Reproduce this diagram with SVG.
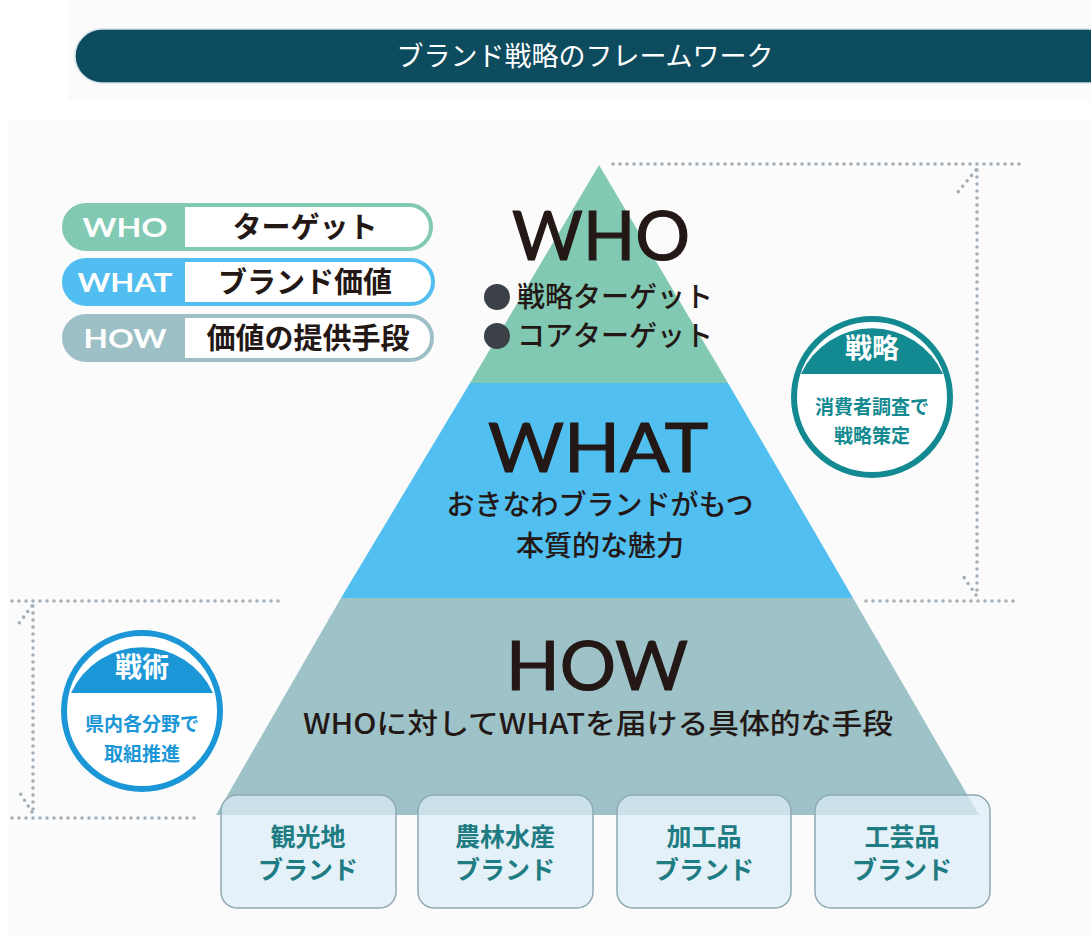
<svg xmlns="http://www.w3.org/2000/svg" width="1091" height="936" viewBox="0 0 1091 936">
<style>
.jp{font-family:"Noto Sans CJK JP","Noto Sans",sans-serif;}
.lat{font-family:"Lato","Liberation Sans",sans-serif;}
.big{font-size:68px;fill:#231815;stroke:#231815;stroke-width:1.2;text-anchor:middle;}
.sub{font-size:28px;font-weight:500;fill:#231815;}
.leg{font-size:26px;font-weight:700;fill:#fff;text-anchor:middle;}
.legj{font-size:29px;font-weight:700;fill:#231815;text-anchor:middle;}
.box{fill:#dcedf6;fill-opacity:0.72;stroke:#8fa9b2;stroke-width:1.5;}
.boxt{font-size:25px;font-weight:700;fill:#1f7c83;text-anchor:middle;}
.dot{fill:none;stroke:#a3afb8;stroke-width:3.6;stroke-linecap:round;stroke-dasharray:0 7;}
</style>
<rect x="0" y="0" width="1091" height="936" fill="#ffffff"/>
<rect x="68" y="0" width="1023" height="100" fill="#fbfbfb"/>
<rect x="9" y="119" width="1082" height="817" fill="#fbfbfb"/>

<g id="title">
<rect x="75" y="29" width="1040" height="54" rx="27" fill="#0d4b5f" stroke="#cfe0e4" stroke-width="1.5"/>
<text class="jp" x="585" y="66" font-size="27" font-weight="400" fill="#ffffff" text-anchor="middle">ブランド戦略のフレームワーク</text>
</g>

<g id="pyramid">
<polygon points="599,165 728,383 470,383" fill="#82c9b3"/>
<polygon points="470,383 728,383 853,598 341,598" fill="#51bff0"/>
<polygon points="341,598 853,598 979,815 216,815" fill="#9dc3c9"/>
</g>

<g id="who">
<text class="lat big" x="601" y="260" textLength="178" lengthAdjust="spacingAndGlyphs">WHO</text>
<circle cx="497" cy="297" r="13" fill="#3c4047"/>
<text class="jp sub" x="517" y="307">戦略ターゲット</text>
<circle cx="497" cy="336" r="13" fill="#3c4047"/>
<text class="jp sub" x="517" y="346">コアターゲット</text>
</g>

<g id="what">
<text class="lat big" x="598" y="472" textLength="220" lengthAdjust="spacingAndGlyphs">WHAT</text>
<text class="jp sub" x="600" y="515" text-anchor="middle">おきなわブランドがもつ</text>
<text class="jp sub" x="600" y="556" text-anchor="middle">本質的な魅力</text>
</g>

<g id="how">
<text class="lat big" x="597" y="690" textLength="182" lengthAdjust="spacingAndGlyphs">HOW</text>
<text class="jp sub" x="598" y="734" text-anchor="middle" textLength="590" lengthAdjust="spacingAndGlyphs">WHOに対してWHATを届ける具体的な手段</text>
</g>

<g id="legend-who">
<rect x="64" y="205" width="367" height="44" rx="22" fill="#ffffff" stroke="#82c9b3" stroke-width="4"/>
<path d="M86,205 H185 V249 H86 A22,22 0 0 1 86,205 Z" fill="#82c9b3"/>
<text class="lat leg" x="125" y="237" textLength="85" lengthAdjust="spacingAndGlyphs">WHO</text>
<text class="jp legj" x="305" y="238">ターゲット</text>
</g>
<g id="legend-what">
<rect x="64" y="260" width="369" height="44" rx="22" fill="#ffffff" stroke="#52bdf0" stroke-width="4"/>
<path d="M86,260 H185 V304 H86 A22,22 0 0 1 86,260 Z" fill="#52bdf0"/>
<text class="lat leg" x="125" y="292" textLength="95" lengthAdjust="spacingAndGlyphs">WHAT</text>
<text class="jp legj" x="305" y="293">ブランド価値</text>
</g>
<g id="legend-how">
<rect x="64" y="316" width="368" height="44" rx="22" fill="#ffffff" stroke="#9dc0c6" stroke-width="4"/>
<path d="M86,316 H185 V360 H86 A22,22 0 0 1 86,316 Z" fill="#9dc0c6"/>
<text class="lat leg" x="125" y="348" textLength="83" lengthAdjust="spacingAndGlyphs">HOW</text>
<text class="jp legj" x="308" y="349">価値の提供手段</text>
</g>

<g id="senryaku">
<circle cx="872" cy="397" r="78" fill="#ffffff" stroke="#138a91" stroke-width="6"/>
<path d="M801,374 A78,78 0 0 1 943,374 Z" fill="#138a91"/>
<text class="jp" x="872" y="358" font-size="27" font-weight="700" fill="#ffffff" text-anchor="middle">戦略</text>
<text class="jp" x="872" y="414" font-size="19" font-weight="700" fill="#138a91" text-anchor="middle">消費者調査で</text>
<text class="jp" x="872" y="443" font-size="19" font-weight="700" fill="#138a91" text-anchor="middle">戦略策定</text>
</g>

<g id="senjutsu">
<circle cx="142" cy="711" r="78" fill="#ffffff" stroke="#1b97d7" stroke-width="6"/>
<path d="M71,693 A78,78 0 0 1 213,693 Z" fill="#1b97d7"/>
<text class="jp" x="142" y="677" font-size="27" font-weight="700" fill="#ffffff" text-anchor="middle">戦術</text>
<text class="jp" x="142" y="731" font-size="19" font-weight="700" fill="#1b97d7" text-anchor="middle">県内各分野で</text>
<text class="jp" x="142" y="761" font-size="19" font-weight="700" fill="#1b97d7" text-anchor="middle">取組推進</text>
</g>

<g id="brand-kankochi">
<rect class="box" x="221" y="795" width="175" height="113" rx="16"/>
<text class="jp boxt" x="308" y="846">観光地</text>
<text class="jp boxt" x="308" y="879">ブランド</text>
</g>
<g id="brand-norin">
<rect class="box" x="418" y="795" width="175" height="113" rx="16"/>
<text class="jp boxt" x="505" y="846">農林水産</text>
<text class="jp boxt" x="505" y="879">ブランド</text>
</g>
<g id="brand-kakohin">
<rect class="box" x="617" y="795" width="174" height="113" rx="16"/>
<text class="jp boxt" x="704" y="846">加工品</text>
<text class="jp boxt" x="704" y="879">ブランド</text>
</g>
<g id="brand-kogeihin">
<rect class="box" x="815" y="795" width="175" height="113" rx="16"/>
<text class="jp boxt" x="902" y="846">工芸品</text>
<text class="jp boxt" x="902" y="879">ブランド</text>
</g>

<g id="connectors">
<line class="dot" x1="613" y1="164" x2="1020" y2="164"/>
<line class="dot" x1="977" y1="170" x2="977" y2="596"/>
<line class="dot" x1="866" y1="601" x2="1020" y2="601"/>
<line class="dot" x1="976" y1="170" x2="958" y2="192"/>
<line class="dot" x1="976" y1="595" x2="961" y2="573"/>
<line class="dot" x1="12" y1="601" x2="280" y2="601"/>
<line class="dot" x1="33" y1="606" x2="33" y2="812"/>
<line class="dot" x1="12" y1="818" x2="198" y2="818"/>
<line class="dot" x1="32" y1="606" x2="16" y2="627"/>
<line class="dot" x1="32" y1="812" x2="18" y2="790"/>
</g>
</svg>
